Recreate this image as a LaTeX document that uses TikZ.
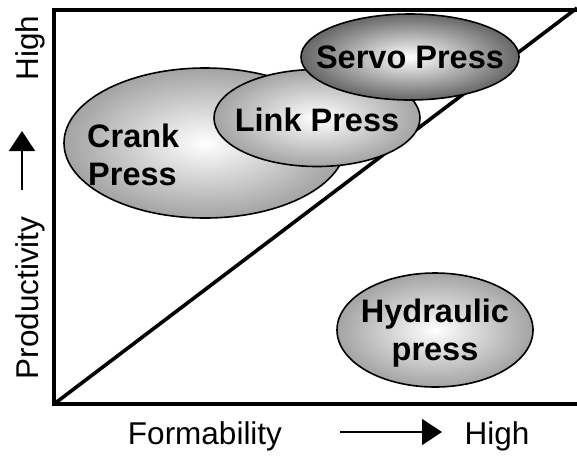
\documentclass[tikz,border=0pt]{standalone}
\usepackage{fontspec}
\setmainfont{Liberation Sans}
\usetikzlibrary{shapes.geometric,arrows.meta}
\begin{document}
\begin{tikzpicture}[x=1pt,y=-1pt,
  press/.style={ellipse, draw=black, line width=1.6pt, inner sep=0pt,
    shading=radial, inner color=white, outer color=black!36},
  ptext/.style={font=\fontsize{32.5}{38}\selectfont\bfseries, inner sep=0pt, align=center},
  atext/.style={font=\fontsize{31.5}{38}\selectfont, inner sep=0pt},
  frame/.style={line width=3.6pt},
  axarrow/.style={line width=1.5pt, -{Triangle[length=20pt,width=26pt]}}]
\useasboundingbox (0,0) rectangle (577,456);
% frame and diagonal
\coordinate (o) at (54,404);
\coordinate (tl) at (54,10);
\coordinate (tr) at (590,10);
\coordinate (br) at (590,404);
\coordinate (dtop) at (577,8);
\draw[frame] (tr) -- (tl) -- (o) -- (br);
\draw[frame] (o) -- (dtop);
% presses
\node[press, minimum width=282pt, minimum height=150pt] (crank) at (205,143) {};
\node[ptext, anchor=base west] (crankA) at (87,147) {Crank};
\node[ptext, anchor=base west] (crankB) at (88,185) {Press};
\node[press, minimum width=206pt, minimum height=97pt] (link) at (317,118) {};
\node[ptext] (linkT) at ([yshift=-2pt]link.center) {Link Press};
\node[press, outer color=black!60, minimum width=218pt, minimum height=86pt] (servo) at (410,57) {};
\node[ptext] (servoT) at (servo.center) {Servo Press};
\node[press, minimum width=196pt, minimum height=114pt] (hyd) at (435,330) {};
\node[ptext] (hydT) at ([yshift=-3pt]hyd.center) {Hydraulic\\press};
% axis labels
\node[atext, rotate=90] (prod) at (30,298) {Productivity};
\node[atext, rotate=90] (highy) at (30,48) {High};
\coordinate (ya) at (22,190);
\coordinate (yb) at (22,131);
\draw[axarrow] (ya) -- (yb);
\node[atext, anchor=base] (form) at (205,444) {Formability};
\node[atext, anchor=base] (highx) at (497,444) {High};
\coordinate (xa) at (340,432);
\coordinate (xb) at (442,432);
\draw[axarrow] (xa) -- (xb);
\end{tikzpicture}
\end{document}
